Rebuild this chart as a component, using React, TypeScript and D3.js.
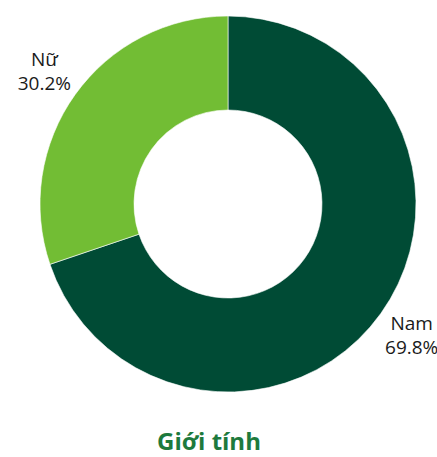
import React, { useRef, useEffect } from 'react';
import * as d3 from 'd3';

const labels = ['Nam', 'Nữ'];
const values = [69.8, 30.2];
const colors = ['#004b35', '#72bd34'];
const title = 'Giới tính';

const App = () => {
  const svgRef = useRef<SVGSVGElement>(null);

  useEffect(() => {
    document.body.style.margin = '0';
    const svg = d3.select(svgRef.current);
    svg.selectAll('*').remove();

    const width = 437;
    const height = 457;
    const cx = 228;
    const cy = 204;
    const outer = 188;
    const inner = 94;

    svg.attr('width', width).attr('height', height);

    const data = labels.map((l, i) => ({ label: l, value: values[i], color: colors[i] }));

    const pie = d3.pie<any>().sort(null).value(d => d.value);
    const arc = d3.arc<any>().innerRadius(inner).outerRadius(outer);
    const labelArc = d3.arc<any>().innerRadius(226).outerRadius(226);

    const g = svg.append('g').attr('transform', `translate(${cx},${cy})`);
    const arcs = pie(data);

    g.selectAll('path')
      .data(arcs)
      .join('path')
      .attr('d', arc)
      .attr('fill', d => d.data.color)
      .attr('stroke', '#ffffff')
      .attr('stroke-width', 0.6);

    const text = g.selectAll('text.lbl')
      .data(arcs)
      .join('text')
      .attr('class', 'lbl')
      .attr('text-anchor', 'middle')
      .attr('font-family', '"Open Sans", sans-serif')
      .attr('font-size', 19)
      .attr('fill', '#1a1a1a')
      .attr('transform', d => {
        const [x, y] = labelArc.centroid(d);
        return `translate(${x},${y})`;
      });

    text.append('tspan').attr('x', 0).attr('y', -6).text(d => d.data.label);
    text.append('tspan').attr('x', 0).attr('y', 18).text(d => `${d.data.value.toFixed(1)}%`);

    // Title
    svg.append('text')
      .attr('x', 209)
      .attr('y', 450)
      .attr('text-anchor', 'middle')
      .attr('font-family', '"Open Sans", sans-serif')
      .attr('font-weight', 'bold')
      .attr('font-size', 24)
      .attr('fill', '#1d7a3d')
      .text(title);
  }, []);

  return <svg ref={svgRef}></svg>;
};

export default App;
